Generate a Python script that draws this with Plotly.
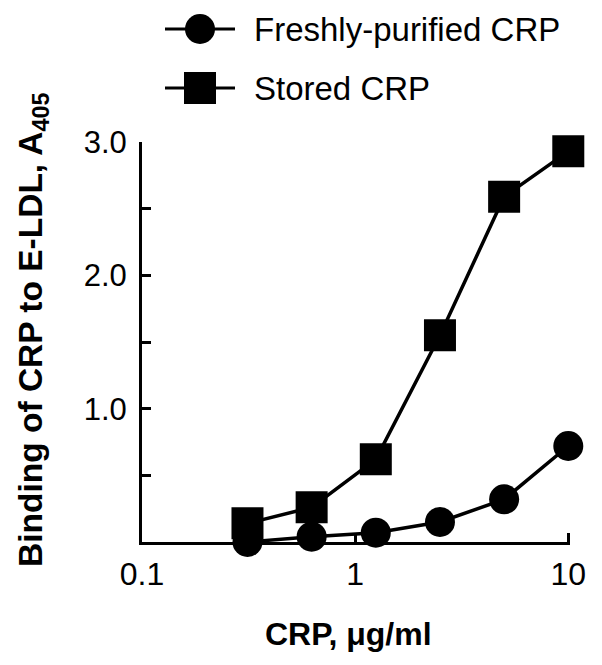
import plotly.graph_objects as go

# ---- data ----
crp_conc = [0.3125, 0.625, 1.25, 2.5, 5, 10]
fresh_binding = [0.0, 0.04, 0.07, 0.15, 0.32, 0.72]
stored_binding = [0.14, 0.26, 0.62, 1.55, 2.59, 2.93]
series_names = ["Freshly-purified CRP", "Stored CRP"]
y_tickvals = [1.0, 2.0, 3.0]
y_ticktext = ["1.0", "2.0", "3.0"]
x_tickvals = [0.1, 1, 10]
x_ticktext = ["0.1", "1", "10"]

FONT = "Liberation Sans, Arial, sans-serif"
OFF = 8  # page body margin
W, H = 602 - OFF, 665 - OFF
L, R, T, B = 142 - OFF, 32, 142 - OFF, 123
PW, PH = W - L - R, H - T - B


def px_x(px):
    return (px - OFF - L) / PW


def px_y(py):
    return (H - B - (py - OFF)) / PH


fig = go.Figure()
fig.add_trace(go.Scatter(
    x=crp_conc, y=fresh_binding, mode="lines+markers", name=series_names[0],
    line=dict(color="black", width=3.5),
    marker=dict(symbol="circle", size=30, color="black"),
    cliponaxis=False, showlegend=False))
fig.add_trace(go.Scatter(
    x=crp_conc, y=stored_binding, mode="lines+markers", name=series_names[1],
    line=dict(color="black", width=3.5),
    marker=dict(symbol="square", size=32, color="black"),
    cliponaxis=False, showlegend=False))

# ---- custom legend (large symbols) ----
shapes = []
annotations = []
legend_rows = [(29, "circle"), (88, "square")]
for (py, kind), name in zip(legend_rows, series_names):
    shapes.append(dict(type="line", xref="paper", yref="paper",
                       x0=px_x(165), x1=px_x(235), y0=px_y(py), y1=px_y(py),
                       line=dict(color="black", width=3)))
    if kind == "circle":
        shapes.append(dict(type="circle", xref="paper", yref="paper",
                           x0=px_x(185), x1=px_x(215), y0=px_y(py + 15), y1=px_y(py - 15),
                           fillcolor="black", line=dict(color="black", width=0)))
    else:
        shapes.append(dict(type="rect", xref="paper", yref="paper",
                           x0=px_x(184), x1=px_x(216), y0=px_y(py + 16), y1=px_y(py - 16),
                           fillcolor="black", line=dict(color="black", width=0)))
    annotations.append(dict(xref="paper", yref="paper", x=px_x(252), y=px_y(py),
                            xanchor="left", yanchor="middle", showarrow=False,
                            text=name, font=dict(family=FONT, size=33, color="black")))

# axis titles
annotations.append(dict(xref="paper", yref="paper", x=px_x(348), y=px_y(634),
                        xanchor="center", yanchor="middle", showarrow=False,
                        text="<b>CRP, \u03bcg/ml</b>",
                        font=dict(family=FONT, size=32, color="black")))
annotations.append(dict(xref="paper", yref="paper", x=px_x(33), y=px_y(330),
                        xanchor="center", yanchor="middle", showarrow=False,
                        textangle=-90,
                        text="<b>Binding of CRP to E-LDL, A<sub>405</sub></b>",
                        font=dict(family=FONT, size=33.5, color="black")))

fig.update_layout(
    width=W, height=H,
    margin=dict(l=L, r=R, t=T, b=B),
    paper_bgcolor="white", plot_bgcolor="white",
    font=dict(family=FONT, color="black"),
    shapes=shapes, annotations=annotations,
    showlegend=False,
)
fig.update_xaxes(
    type="log", range=[-1, 1.008],
    tickvals=x_tickvals, ticktext=x_ticktext,
    ticks="inside", ticklen=9, tickwidth=3, tickcolor="black",
    showline=True, linecolor="black", linewidth=3,
    showgrid=False, zeroline=False,
    tickfont=dict(family=FONT, size=32, color="black"),
    ticklabelstandoff=2,
)
fig.update_yaxes(
    range=[0, 3.0],
    tickvals=y_tickvals, ticktext=y_ticktext,
    ticks="inside", ticklen=9, tickwidth=3, tickcolor="black",
    minor=dict(dtick=0.5, ticks="inside", ticklen=9, tickwidth=3,
               tickcolor="black", showgrid=False),
    showline=True, linecolor="black", linewidth=3,
    showgrid=False, zeroline=False,
    tickfont=dict(family=FONT, size=31, color="black"),
    ticklabelstandoff=6,
)

fig.write_html("out.html")
